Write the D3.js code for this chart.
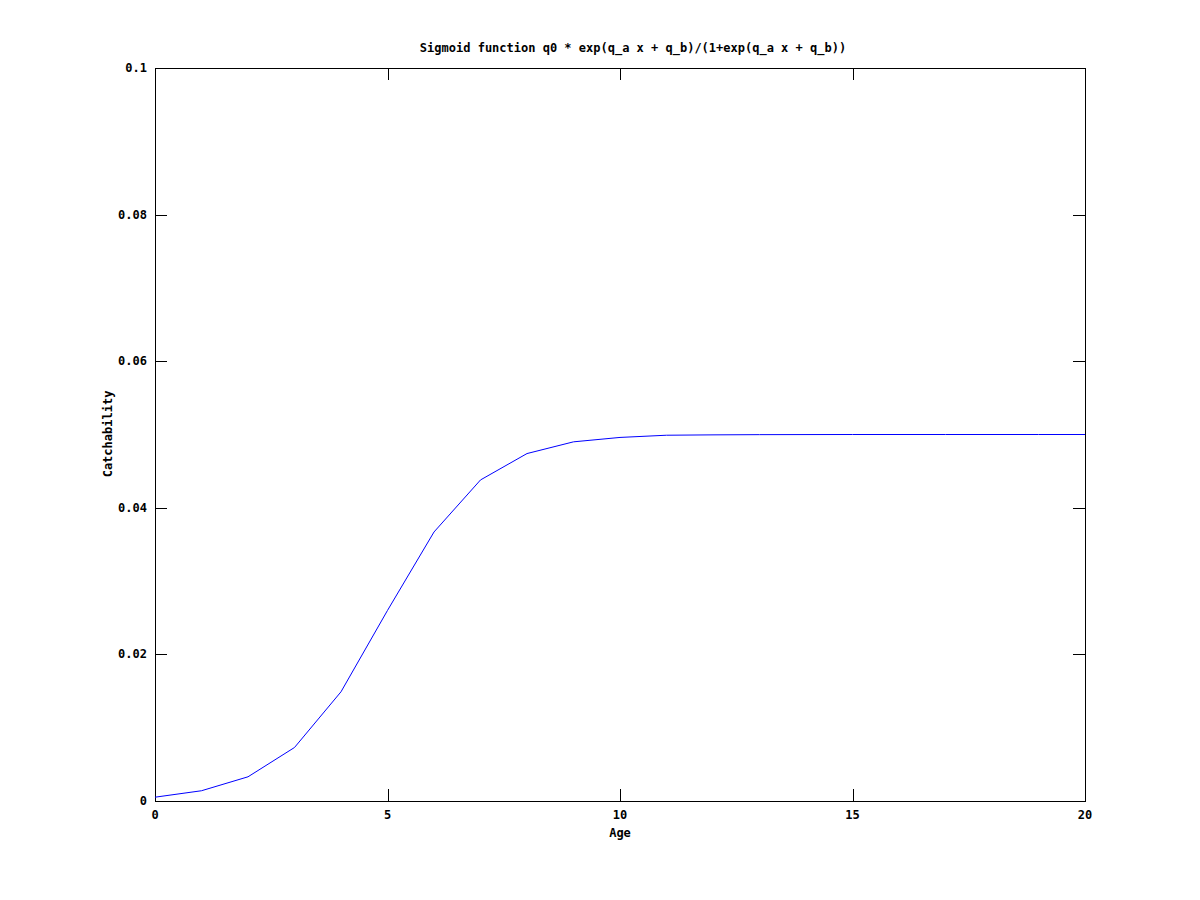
<!DOCTYPE html>
<html><head><meta charset="utf-8">
<script src="https://cdn.jsdelivr.net/npm/d3@7"></script>
<style>body{margin:0;background:#fff}text{font-family:"DejaVu Sans Mono",monospace;font-weight:bold;font-size:12px;fill:#000}</style>
</head><body>
<svg id="c" width="1200" height="900"></svg>
<script>
const ages = [0,1,2,3,4,5,6,7,8,9,10,11,12,13,14,15,16,17,18,19,20];
const catchability = [0.00052,0.0014,0.0033,0.0073,0.0149,0.0260,0.0367,0.0438,0.0474,0.0490,0.0496,0.0499,0.04995,0.04998,0.04999,0.05,0.05,0.05,0.05,0.05,0.05];
const xTicks = [0,5,10,15,20];
const yTicks = [0,0.02,0.04,0.06,0.08,0.1];
const yTickLabels = ["0","0.02","0.04","0.06","0.08","0.1"];
const title = "Sigmoid function q0 * exp(q_a x + q_b)/(1+exp(q_a x + q_b))";

const svg = d3.select("#c");
const L=155,R=1085,T=68,B=801;
const x = d3.scaleLinear().domain([0,20]).range([L,R]);
const y = d3.scaleLinear().domain([0,0.1]).range([B,T]);
const tl = 12;

svg.append("rect").attr("x",L+0.5).attr("y",T+0.5).attr("width",R-L).attr("height",B-T)
  .attr("fill","none").attr("stroke","#000").attr("stroke-width",1).attr("shape-rendering","crispEdges");

const g = svg.append("g").attr("shape-rendering","crispEdges").attr("stroke","#000");
xTicks.forEach(t=>{
  const px = Math.round(x(t))+0.5;
  if(t>0 && t<20){
    g.append("line").attr("x1",px).attr("x2",px).attr("y1",B).attr("y2",B-tl);
    g.append("line").attr("x1",px).attr("x2",px).attr("y1",T).attr("y2",T+tl);
  }
  svg.append("text").attr("x",x(t)).attr("y",B+18).attr("text-anchor","middle").text(t);
});
yTicks.forEach((t,i)=>{
  const py = Math.round(y(t))+0.5;
  if(t>0 && t<0.1){
    g.append("line").attr("x1",L).attr("x2",L+tl).attr("y1",py).attr("y2",py);
    g.append("line").attr("x1",R).attr("x2",R-tl).attr("y1",py).attr("y2",py);
  }
  svg.append("text").attr("x",147).attr("y",y(t)+4).attr("text-anchor","end").text(yTickLabels[i]);
});

const line = d3.line().x((d,i)=>x(ages[i])).y(d=>y(d));
svg.append("path").datum(catchability).attr("d",line).attr("fill","none").attr("stroke","#0000ff").attr("stroke-width",1);

svg.append("text").attr("x",633).attr("y",52).attr("text-anchor","middle").text(title);
svg.append("text").attr("x",620).attr("y",837).attr("text-anchor","middle").text("Age");
svg.append("text").attr("transform","translate(112,434) rotate(-90)").attr("text-anchor","middle").text("Catchability");
</script>
</body></html>
